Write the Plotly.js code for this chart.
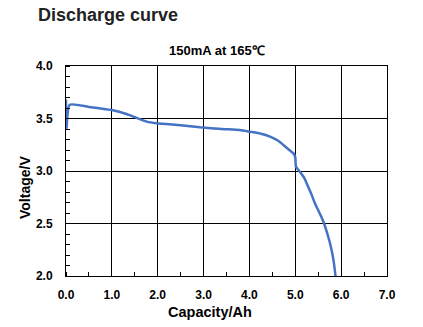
<!DOCTYPE html>
<html>
<head>
<meta charset="utf-8">
<script src="https://cdn.plot.ly/plotly-3.0.1.min.js"></script>
<style>html,body{margin:0;padding:0;background:#fff;}#chart{width:423px;height:327px;}</style>
</head>
<body>
<div id="chart"></div>
<script>
const capacityAh = [0.0, 0.01, 0.08, 0.5, 1.0, 1.32, 1.76, 1.98, 2.5, 2.92, 3.4, 3.79, 4.01, 4.25, 4.45, 4.62, 4.74, 4.87, 4.96, 5.0, 5.015, 5.1, 5.2, 5.28, 5.36, 5.43, 5.54, 5.62, 5.68, 5.74, 5.79, 5.84, 5.88];
const voltageV   = [3.68, 3.40, 3.63, 3.61, 3.58, 3.543, 3.47, 3.454, 3.435, 3.416, 3.40, 3.39, 3.374, 3.355, 3.327, 3.29, 3.248, 3.20, 3.168, 3.13, 3.04, 2.993, 2.93, 2.85, 2.77, 2.69, 2.59, 2.51, 2.43, 2.34, 2.25, 2.13, 1.99];
const xTicks = [0, 1, 2, 3, 4, 5, 6, 7];
const xTickText = ['0.0', '1.0', '2.0', '3.0', '4.0', '5.0', '6.0', '7.0'];
const yTicks = [2.0, 2.5, 3.0, 3.5, 4.0];
const yTickText = ['2.0', '2.5', '3.0', '3.5', '4.0'];
const mainTitle = 'Discharge curve';
const subTitle = '150mA at 165℃';
const xTitle = 'Capacity/Ah';
const yTitle = 'Voltage/V';

const fontFam = 'Liberation Sans, Arial, sans-serif';
const trace = {
  x: capacityAh, y: voltageV, mode: 'lines', type: 'scatter',
  line: {color: '#4472C4', width: 2.5, shape: 'spline', smoothing: 0.6},
  hoverinfo: 'skip', showlegend: false
};
const axisCommon = {
  showline: true, linecolor: '#000', linewidth: 1, mirror: true,
  showgrid: true, gridcolor: '#000', gridwidth: 1,
  zeroline: false, ticks: '', fixedrange: true,
  tickfont: {family: fontFam, size: 12, color: '#000', weight: 'bold'}
};
const layout = {
  width: 423, height: 327,
  margin: {l: 66, r: 36, t: 66, b: 51},
  paper_bgcolor: '#fff', plot_bgcolor: '#fff',
  font: {family: fontFam, color: '#000'},
  xaxis: Object.assign({}, axisCommon, {
    range: [0, 7], tickvals: xTicks, ticktext: xTickText,
    ticklabelstandoff: 8,
    minor: {dtick: 0.5, tick0: 0, ticks: 'inside', ticklen: 4, tickcolor: '#000', showgrid: false}
  }),
  yaxis: Object.assign({}, axisCommon, {
    range: [2, 4], tickvals: yTicks, ticktext: yTickText,
    ticklabelstandoff: 10,
    minor: {dtick: 0.1, tick0: 2, ticks: 'inside', ticklen: 4, tickcolor: '#000', showgrid: false}
  }),
  annotations: [
    {text: mainTitle, xref: 'paper', yref: 'paper', x: -0.0935, y: 1.0, xanchor: 'left', yanchor: 'middle',
     yshift: 51, showarrow: false, font: {family: fontFam, size: 18, weight: 'bold', color: '#222'}},
    {text: subTitle, xref: 'paper', yref: 'paper', x: 0.471, y: 1.0, xanchor: 'center', yanchor: 'middle',
     yshift: 16, showarrow: false, font: {family: fontFam, size: 13, weight: 'bold', color: '#000'}},
    {text: xTitle, xref: 'paper', yref: 'paper', x: 0.449, y: 0, xanchor: 'center', yanchor: 'middle',
     yshift: -36, showarrow: false, font: {family: fontFam, size: 14.5, weight: 'bold', color: '#000'}},
    {text: yTitle, xref: 'paper', yref: 'paper', x: 0, y: 0.419, xanchor: 'center', yanchor: 'middle',
     xshift: -41, textangle: -90, showarrow: false, font: {family: fontFam, size: 14, weight: 'bold', color: '#000'}}
  ]
};
Plotly.newPlot('chart', [trace], layout, {displayModeBar: false, staticPlot: true});
</script>
</body>
</html>
